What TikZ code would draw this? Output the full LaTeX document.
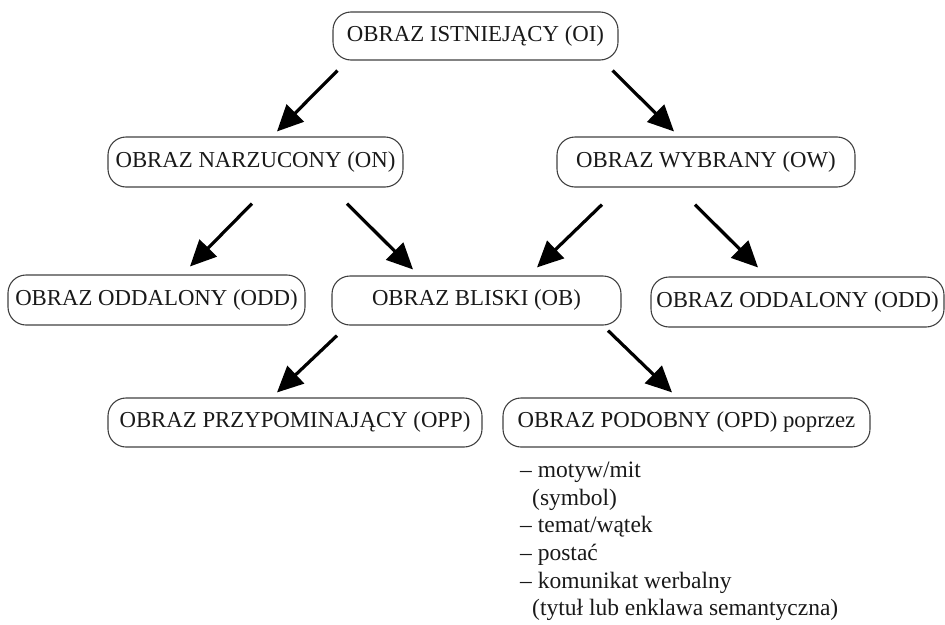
\documentclass[tikz,border=0pt]{standalone}
\usepackage{fontspec}
\setmainfont{Liberation Serif}
\usetikzlibrary{arrows.meta}

\begin{document}
\begin{tikzpicture}[x=1pt,y=-1pt,
    box/.style={rectangle,draw=black!75,line width=1.1pt,rounded corners=18pt,minimum height=49pt,inner sep=0pt,font=\fontsize{22.8}{26}\selectfont,text=black!90},
    arr/.style={-{Triangle[length=26pt,width=24pt]},line width=3.2pt}]
    \useasboundingbox (0,0) rectangle (945,624);
    % nodes
    \node (oi) at (475.5,36) [box,minimum width=285pt,minimum height=48pt] {OBRAZ ISTNIEJĄCY (OI)};
    \node (on) at (255.5,162) [box,minimum width=295pt,minimum height=50pt] {OBRAZ NARZUCONY (ON)};
    \node (ow) at (706,162) [box,minimum width=298pt,minimum height=50pt] {OBRAZ WYBRANY (OW)};
    \node (oddl) at (156.5,300) [box,minimum width=297pt,minimum height=50pt] {OBRAZ ODDALONY (ODD)};
    \node (ob) at (476.5,300.5) [box,minimum width=289pt] {OBRAZ BLISKI (OB)};
    \node (oddr) at (797.5,302) [box,minimum width=293pt,minimum height=50pt] {OBRAZ ODDALONY (ODD)};
    \node (opp) at (295,422.5) [box,minimum width=374pt] {OBRAZ PRZYPOMINAJĄCY (OPP)};
    \node (opd) at (686.5,422.5) [box,minimum width=367pt] {OBRAZ PODOBNY (OPD) poprzez};
    \node (lista) at (520,462) [anchor=north west,inner sep=0pt,align=left,text=black!90,font=\fontsize{23.5}{27.6}\selectfont]
        {– motyw/mit\\\hspace*{12pt}(symbol)\\– temat/wątek\\– postać\\– komunikat werbalny\\\hspace*{12pt}(tytuł lub enklawa semantyczna)};
    % paths
    \draw[arr] ([shift={(5,10)}]oi.south west) to ([shift={(21.5,-5)}]on.north);
    \draw[arr] ([shift={(-6,10)}]oi.south east) to ([shift={(-32,-5)}]ow.north);
    \draw[arr] ([shift={(-3.5,16)}]on.south) to ([shift={(33.5,-8)}]oddl.north);
    \draw[arr] ([shift={(91.5,16)}]on.south) to ([shift={(-63.5,-6)}]ob.north);
    \draw[arr] ([shift={(-104,17)}]ow.south) to ([shift={(60.5,-8)}]ob.north);
    \draw[arr] ([shift={(-11,17)}]ow.south) to ([shift={(-39.5,-9)}]oddr.north);
    \draw[arr] ([shift={(-139.5,10)}]ob.south) to ([shift={(-18,-5)}]opp.north);
    \draw[arr] ([shift={(131.5,5)}]ob.south) to ([shift={(-14.5,-5)}]opd.north);
\end{tikzpicture}
\end{document}
